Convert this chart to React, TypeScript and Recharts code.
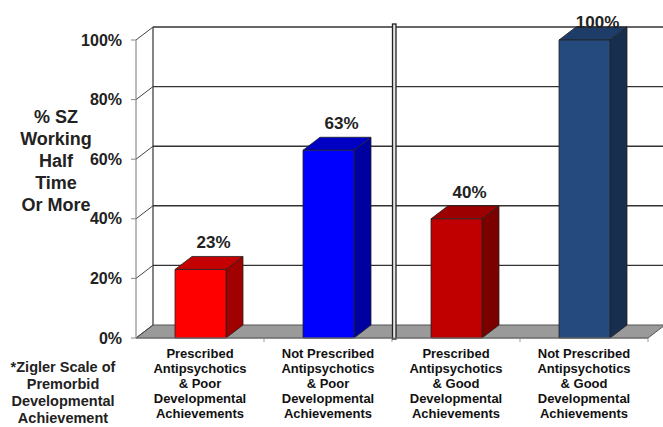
import React from 'react';
import { BarChart, Bar, XAxis, YAxis, CartesianGrid, ReferenceLine, LabelList } from 'recharts';

// groups on the x axis (line breaks as in the slide)
const categories = [
  'Prescribed\nAntipsychotics\n& Poor\nDevelopmental\nAchievements',
  'Not Prescribed\nAntipsychotics\n& Poor\nDevelopmental\nAchievements',
  'Prescribed\nAntipsychotics\n& Good\nDevelopmental\nAchievements',
  'Not Prescribed\nAntipsychotics\n& Good\nDevelopmental\nAchievements',
];
const workingPct = [23, 63, 40, 100];
const yTicks = [0, 20, 40, 60, 80, 100];
const titleLines = ['% SZ', 'Working', 'Half', 'Time', 'Or More'];
const noteLines = ['*Zigler Scale of', 'Premorbid', 'Developmental', 'Achievement'];

const data = categories.map((name, i) => ({ name, value: workingPct[i] }));

// front / top / side shades per bar
const barColors = [
  { front: '#ff0000', top: '#c40000', side: '#a00000' },
  { front: '#0000ff', top: '#0000c4', side: '#0000a0' },
  { front: '#c00000', top: '#9c0000', side: '#7c0000' },
  { front: '#244a7e', top: '#1d3c67', side: '#172e4f' },
];

// 3d depth offset
const DX = 17;
const DY = 13;
const FONT = '"Liberation Sans", Arial, Helvetica, sans-serif';

const Box3D = (props: any) => {
  const { x, y, width, height, index } = props;
  const c = barColors[index % barColors.length];
  const r = x + width;
  const b = y + height;
  return (
    <g stroke="#222" strokeWidth={0.8} strokeLinejoin="round">
      <polygon points={`${r},${y} ${r + DX},${y - DY} ${r + DX},${b - DY} ${r},${b}`} fill={c.side} />
      <polygon points={`${x},${y} ${x + DX},${y - DY} ${r + DX},${y - DY} ${r},${y}`} fill={c.top} />
      <rect x={x} y={y} width={width} height={height} fill={c.front} />
    </g>
  );
};

// back wall lines, left wall diagonals and the grey floor
const gridLine = (p: any) => {
  const { x1, y1, x2, x, y, height } = p;
  const bottom = y + height;
  const isFloor = Math.abs(y1 - bottom) < 0.5;
  return (
    <g key={p.key}>
      {isFloor && (
        <polygon
          points={`${x},${bottom} ${x2},${bottom} ${x2 + DX},${bottom - DY} ${x + DX},${bottom - DY}`}
          fill="#9a9a9a"
          stroke="#555"
          strokeWidth={1}
        />
      )}
      {isFloor && <line x1={x + DX} y1={y - DY} x2={x + DX} y2={bottom - DY} stroke="#333" strokeWidth={1.2} />}
      <line x1={x1} y1={y1} x2={x1 + DX} y2={y1 - DY} stroke="#444" strokeWidth={1} />
      {!isFloor && <line x1={x1 + DX} y1={y1 - DY} x2={x2 + DX} y2={y1 - DY} stroke="#333" strokeWidth={1.4} />}
    </g>
  );
};

// double rule between the poor / good groups
const Separator = (p: any) => {
  const { x1, y1, y2 } = p;
  const top = Math.min(y1, y2);
  const bottom = Math.max(y1, y2);
  return (
    <rect x={x1 + 0.5} y={top - DY - 3} width={3.5} height={bottom - top + DY + 4} fill="#e4e4e4" stroke="#222" strokeWidth={1.3} />
  );
};

// small tick under the axis at each group boundary
const EdgeTick = (p: any) => {
  const { x1, y1, y2 } = p;
  const bottom = Math.max(y1, y2);
  return <line x1={x1} y1={bottom} x2={x1} y2={bottom + 4} stroke="#999" strokeWidth={1} />;
};

const CategoryTick = (p: any) => {
  const { x, y, payload } = p;
  const lines = String(payload.value).split('\n');
  return (
    <text x={x} y={y} textAnchor="middle" fontSize={13} fontWeight="bold" fill="#111" fontFamily={FONT}>
      {lines.map((l, i) => (
        <tspan key={i} x={x} y={y + 20 + i * 15}>
          {l}
        </tspan>
      ))}
    </text>
  );
};

const ValueLabel = (p: any) => {
  const { x, y, width, value } = p;
  return (
    <text x={x + width / 2 + 13} y={Math.max(y - 21, 28)} textAnchor="middle" fontSize={17} fontWeight="bold" fill="#222" fontFamily={FONT}>
      {value}%
    </text>
  );
};

export default function App() {
  return (
    <div style={{ position: 'absolute', left: 0, top: 0, width: 663, height: 427, background: '#fff', fontFamily: FONT, overflow: 'hidden' }}>
      <BarChart width={663} height={427} data={data} margin={{ top: 40, right: 15, bottom: 0, left: 0 }}>
        <CartesianGrid horizontal={gridLine} vertical={false} />
        <XAxis dataKey="name" height={89} interval={0} tickLine={false} tickSize={0} tickMargin={0} axisLine={{ stroke: '#777' }} tick={<CategoryTick />} />
        <YAxis
          width={136}
          domain={[0, 100]}
          ticks={yTicks}
          tickFormatter={(v) => `${v}%`}
          tick={{ fontSize: 16, fontWeight: 'bold', fill: '#222', fontFamily: FONT }}
          tickSize={5}
          tickMargin={9}
          tickLine={{ stroke: '#888' }}
          axisLine={{ stroke: '#777' }}
        />
        {categories.slice(1).map((c) => (
          <ReferenceLine key={c} x={c} position="start" shape={<EdgeTick />} />
        ))}
        <ReferenceLine x={categories[3]} position="end" shape={<EdgeTick />} />
        <ReferenceLine x={categories[2]} position="start" shape={<Separator />} />
        <Bar dataKey="value" barSize={51} shape={<Box3D />} isAnimationActive={false}>
          <LabelList dataKey="value" content={<ValueLabel />} />
        </Bar>
      </BarChart>
      <div style={{ position: 'absolute', left: 0, top: 106, width: 112, textAlign: 'center', fontSize: 18, fontWeight: 'bold', lineHeight: '22px', color: '#222' }}>
        {titleLines.map((l) => (
          <div key={l}>{l}</div>
        ))}
      </div>
      <div style={{ position: 'absolute', left: 0, top: 359, width: 126, textAlign: 'center', fontSize: 14.5, fontWeight: 'bold', lineHeight: '17px', color: '#222' }}>
        {noteLines.map((l) => (
          <div key={l}>{l}</div>
        ))}
      </div>
    </div>
  );
}
